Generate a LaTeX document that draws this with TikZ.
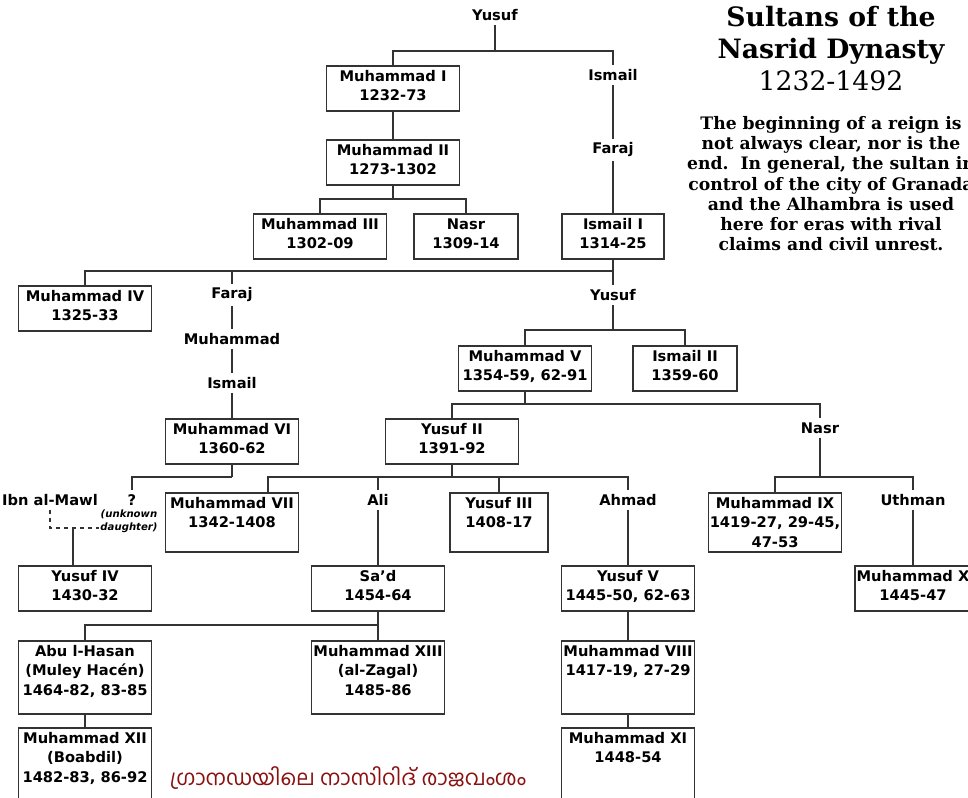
\documentclass[tikz,border=0pt]{standalone}
\usepackage{fontspec}
\setsansfont{DejaVu Sans}
\newfontfamily\titlefont{DejaVu Serif}
\newfontfamily\malfont[Script=Malayalam]{Hind Kochi}
\usepackage{xcolor}
\usepackage{tikz}
\usetikzlibrary{positioning}

\definecolor{linegray}{HTML}{333333}
\definecolor{malred}{HTML}{8B1010}

\begin{document}
\begin{tikzpicture}[x=0.75pt, y=-0.75pt]

	% Styles
	\tikzset{
		sultan/.style={
			rectangle, draw=linegray, line width=1.3pt,
			minimum width=99.75pt, inner xsep=1pt, inner ysep=0pt,
			anchor=north, align=center, text height=26.2pt,
			font=\sffamily\bfseries\fontsize{11}{14.6}\selectfont
		},
		threeline/.style={text height=40.8pt},
		boxdepth/.style={text depth=#1},
		rowtwo/.style={sultan, boxdepth=7.55pt},
		kin/.style={font=\sffamily\bfseries\fontsize{11}{13}\selectfont, inner sep=3pt},
		conn/.style={draw=linegray, line width=1.3pt}
	}

	\useasboundingbox[fill=white] (0,0) rectangle (968,797);

	% Title and note
	\node (title) [anchor=north, align=center, inner sep=0pt,
		font=\titlefont\bfseries\fontsize{20}{24}\selectfont] at (831,6)
		{Sultans of the\\Nasrid Dynasty\\{\mdseries 1232-1492}};
	\node (note) [anchor=north, align=center, inner sep=0pt,
		font=\titlefont\bfseries\fontsize{12.9}{15.2}\selectfont] at (831,116)
		{The beginning of a reign is\\not always clear, nor is the\\end.\ \ In general, the sultan in\\control of the city of Granada\\and the Alhambra is used\\here for eras with rival\\claims and civil unrest.};

	% First generations
	\node (yusufA) [kin] at (495,15) {Yusuf};
	\node (m1) [rowtwo] at (393,65) {Muhammad I\\1232-73};
	\node (ismailA) [kin] at (613,75) {Ismail};
	\node (farajA) [kin] at (613,150) {Faraj};
	\node (m2) [rowtwo] at (393,139) {Muhammad II\\1273-1302};
	\node (m3) [rowtwo] at (320,213) {Muhammad III\\1302-09};
	\node (nasrA) [rowtwo, minimum width=78pt] at (466,213) {Nasr\\1309-14};
	\node (is1) [rowtwo, minimum width=76.5pt] at (613,213) {Ismail I\\1314-25};

	% Sons of Ismail I
	\node (m4) [rowtwo] at (85,285) {Muhammad IV\\1325-33};
	\node (farajB) [kin] at (232,295) {Faraj};
	\node (muhB) [kin] at (232,339) {Muhammad};
	\node (ismailB) [kin] at (232,383) {Ismail};
	\node (m6) [rowtwo] at (232,418) {Muhammad VI\\1360-62};
	\node (yusufB) [kin] at (613,295) {Yusuf};
	\node (m5) [rowtwo] at (525,345) {Muhammad V\\1354-59, 62-91};
	\node (is2) [rowtwo, minimum width=78pt] at (685,345) {Ismail II\\1359-60};
	\node (y2) [rowtwo] at (452,418) {Yusuf II\\1391-92};
	\node (nasrB) [kin] at (820,428) {Nasr};

	% Fourth row
	\node (ibn) [kin] at (50,500) {Ibn al-Mawl};
	\node (qm) [kin] at (132,500) {?};
	\node (unk) [align=center, inner sep=1pt,
		font=\sffamily\bfseries\itshape\fontsize{7.6}{10}\selectfont] at (129,521) {(unknown\\daughter)};
	\node (m7) [sultan, boxdepth=18.05pt] at (232,492) {Muhammad VII\\1342-1408};
	\node (ali) [kin] at (378,500) {Ali};
	\node (y3) [sultan, boxdepth=18.05pt, minimum width=73.5pt] at (499,492) {Yusuf III\\1408-17};
	\node (ahmad) [kin] at (628,500) {Ahmad};
	\node (m9) [sultan, threeline, boxdepth=3.45pt] at (775,492) {Muhammad IX\\1419-27, 29-45,\\47-53};
	\node (uthman) [kin] at (913,500) {Uthman};

	% Fifth row
	\node (y4) [rowtwo] at (85,565) {Yusuf IV\\1430-32};
	\node (sad) [rowtwo] at (378,565) {Sa'd\\1454-64};
	\node (y5) [rowtwo] at (628,565) {Yusuf V\\1445-50, 62-63};
	\node (m10) [rowtwo, minimum width=87pt] at (913,565) {Muhammad X\\1445-47};

	% Last rows
	\node (abu) [sultan, threeline, boxdepth=13.95pt] at (85,640) {Abu l-Hasan\\(Muley Hacén)\\1464-82, 83-85};
	\node (m13) [sultan, threeline, boxdepth=13.95pt] at (378,640) {Muhammad XIII\\(al-Zagal)\\1485-86};
	\node (m8) [sultan, boxdepth=28.55pt] at (628,640) {Muhammad VIII\\1417-19, 27-29};
	\node (m12) [sultan, threeline, boxdepth=26.7pt] at (85,727) {Muhammad XII\\(Boabdil)\\1482-83, 86-92};
	\node (m11) [sultan, boxdepth=41.3pt] at (628,727) {Muhammad XI\\1448-54};

	\node (maltitle) [font=\malfont\fontsize{16}{18}\selectfont, text=malred] at (348,778)
		{ഗ്രാനഡയിലെ നാസിറിദ് രാജവംശം};

	% Junctions
	\coordinate (jA) at (495,51);
	\coordinate (jB) at (393,199);
	\coordinate (jC) at (613,271);
	\coordinate (jD) at (613,330);
	\coordinate (jE) at (525,404);
	\coordinate (jF) at (820,477);
	\coordinate (jG) at (232,477);
	\coordinate (jH) at (73,528);
	\coordinate (jI) at (452,477);
	\coordinate (jJ) at (378,625);

	% Lines: Yusuf to Ismail I
	\draw[conn] (yusufA) -- (jA);
	\draw[conn] (m1.north) |- (jA) -| (ismailA);
	\draw[conn] (ismailA) -- (farajA);
	\draw[conn] (farajA) -- (is1);
	\draw[conn] (m1) -- (m2);
	\draw[conn] (m2) -- (jB);
	\draw[conn] (m3.north) |- (jB) -| (nasrA.north);

	% Lines: Ismail I to Yusuf II
	\draw[conn] (is1) -- (jC);
	\draw[conn] (m4.north) |- (jC) -- (yusufB);
	\draw[conn] (farajB) -- (farajB |- jC);
	\draw[conn] (farajB) -- (muhB);
	\draw[conn] (muhB) -- (ismailB);
	\draw[conn] (ismailB) -- (m6);
	\draw[conn] (yusufB) -- (jD);
	\draw[conn] (m5.north) |- (jD) -| (is2.north);
	\draw[conn] (m5) -- (jE);
	\draw[conn] (y2.north) |- (jE) -| (nasrB);

	% Lines: Nasr
	\draw[conn] (nasrB) -- (jF);
	\draw[conn] (m9.north) |- (jF) -| (uthman);
	\draw[conn] (uthman) -- (m10);

	% Lines: Muhammad VI
	\draw[conn] (m6) -- (jG);
	\draw[conn] (jG) -| (qm);
	\draw[conn, dashed, line width=0.9pt] (ibn) |- (jH) -- (jH -| unk.west);
	\draw[conn] (jH) -- (jH |- y4.north);

	% Lines: Yusuf II
	\draw[conn] (y2) -- (jI);
	\draw[conn] ([xshift=27pt]m7.north) |- (jI) -| (ahmad);
	\draw[conn] (ali) -- (ali |- jI);
	\draw[conn] (y3.north) -- (y3.north |- jI);
	\draw[conn] (ali) -- (sad);
	\draw[conn] (ahmad) -- (y5);

	% Lines: last generations
	\draw[conn] (sad) -- (jJ);
	\draw[conn] (abu.north) |- (jJ) -- (m13.north);
	\draw[conn] (abu) -- (m12);
	\draw[conn] (y5) -- (m8);
	\draw[conn] (m8) -- (m11);

\end{tikzpicture}
\end{document}
